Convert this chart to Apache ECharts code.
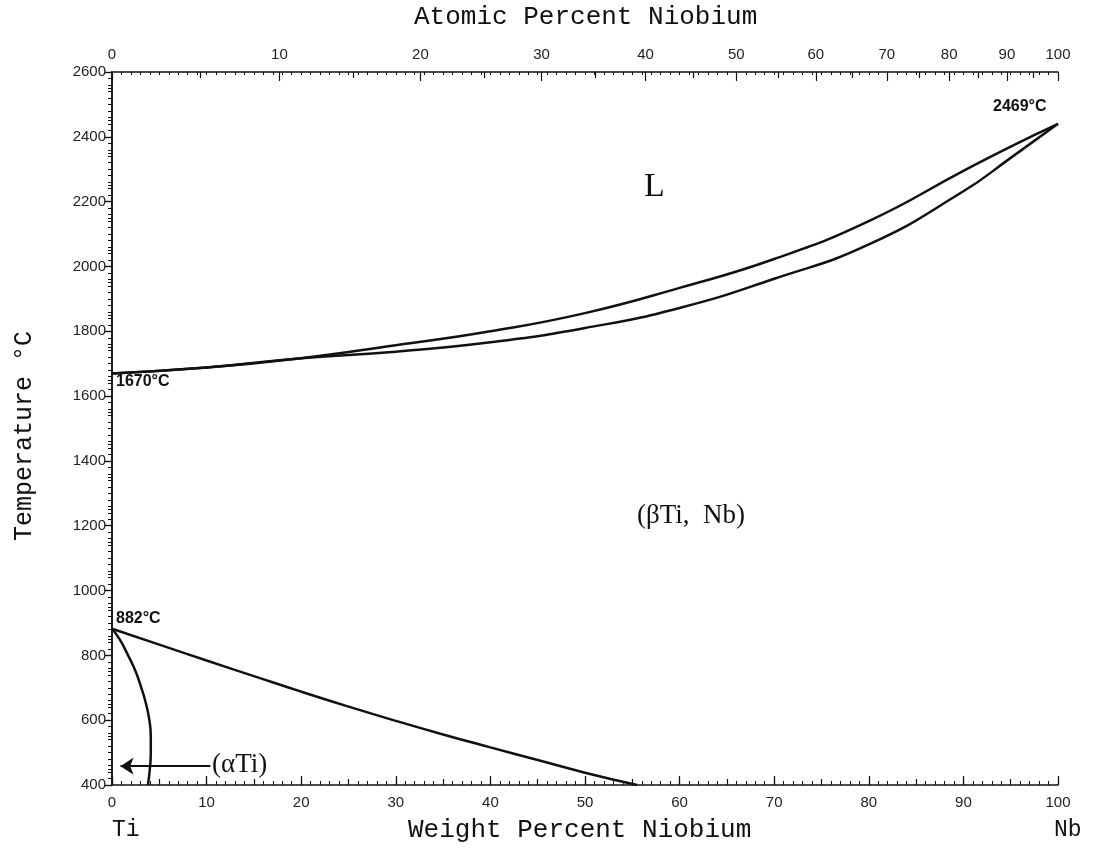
<!DOCTYPE html>
<html>
<head>
<meta charset="utf-8">
<script src="https://cdn.jsdelivr.net/npm/echarts@6/dist/echarts.min.js"></script>
<style>
  html, body { margin: 0; padding: 0; background: #fff; }
  #chart { width: 1099px; height: 848px; }
</style>
</head>
<body>
<div id="chart"></div>
<script>
// liquidus / solidus, weight % Nb vs temperature
var liquidus = [[0,1670],[10,1688],[20,1717],[30,1757],[40,1800],[50,1856],[60,1934],[70,2023],[80,2140],[90,2295],[95,2370],[100,2440]];
var solidus = [[0,1670],[10,1688],[20,1717],[30,1737],[40,1766],[50,1810],[60,1872],[70,1962],[80,2068],[90,2232],[95,2335],[100,2440]];
// alpha / beta transus and alpha solvus
var transus = [[0,882],[5,833],[10,784],[15,736],[20,688],[25,642],[30,598],[35,556],[40,516],[45,477],[50,438],[55.5,400]];
var alphaSolvus = [[0,882],[0.8,850],[1.7,800],[2.5,750],[3.1,700],[3.6,650],[3.95,600],[4.1,550],[4.1,500],[4.0,450],[3.8,400]];

// top axis: atomic % labels and where they sit on the weight % scale
var atLabels = [0,10,20,30,40,50,60,70,80,90,100];
var atPos = [0,17.7,32.6,45.4,56.4,66.0,74.4,81.9,88.5,94.6,100];
var atMidPos = [9.3,25.5,39.3,51.1,61.4,70.4,78.3,85.3,91.6,97.4];

var ink = '#111';
var tickFont = { fontFamily: 'Liberation Sans', fontSize: 15, color: '#222' };

var chart = echarts.init(document.getElementById('chart'));

function curve(data) {
  return {
    type: 'line', data: data, showSymbol: false, smooth: 0.5,
    lineStyle: { color: ink, width: 2.5 }, animation: false, silent: true
  };
}

var arrowSeries = {
  type: 'line', data: [], silent: true,
  markLine: {
    silent: true, animation: false,
    symbol: ['none', 'arrow'], symbolSize: 13,
    lineStyle: { color: ink, width: 2, type: 'solid' },
    label: { show: false },
    data: [[{ coord: [10.4, 458] }, { coord: [0.9, 458] }]]
  }
};

chart.setOption({
  backgroundColor: '#fff',
  animation: false,
  grid: { left: 112, right: 41, top: 72, bottom: 63 },
  xAxis: [
    {
      type: 'value', position: 'bottom', min: 0, max: 100, interval: 10,
      axisLine: { lineStyle: { color: ink, width: 1.5 } },
      axisTick: { inside: true, length: 9, lineStyle: { color: ink, width: 1.2 } },
      minorTick: { show: true, splitNumber: 10, length: 4, lineStyle: { color: ink } },
      axisLabel: Object.assign({ margin: 10 }, tickFont),
      splitLine: { show: false }
    },
    {
      type: 'value', position: 'top', min: 0, max: 100,
      axisLine: { lineStyle: { color: ink, width: 1.5 } },
      axisTick: { inside: true, length: 9, customValues: atPos, lineStyle: { color: ink, width: 1.2 } },
      axisLabel: Object.assign({
        margin: 10, customValues: atPos,
        formatter: function (v) {
          var i = atPos.indexOf(v);
          return i < 0 ? '' : String(atLabels[i]);
        }
      }, tickFont),
      splitLine: { show: false }
    },
    {
      type: 'value', position: 'top', min: 0, max: 100,
      axisLine: { show: false },
      axisTick: { inside: true, length: 6, customValues: atMidPos, lineStyle: { color: ink, width: 1.2 } },
      axisLabel: { show: false },
      splitLine: { show: false }
    },
    {
      type: 'value', position: 'top', min: 0, max: 100, interval: 1,
      axisLine: { show: false },
      axisTick: { inside: true, length: 3, lineStyle: { color: ink } },
      axisLabel: { show: false },
      splitLine: { show: false }
    },
    {
      type: 'value', position: 'bottom', min: 0, max: 100, interval: 5,
      axisLine: { show: false },
      axisTick: { inside: true, length: 6, lineStyle: { color: ink, width: 1.2 } },
      axisLabel: { show: false },
      splitLine: { show: false }
    }
  ],
  yAxis: [
    {
      type: 'value', position: 'left', min: 400, max: 2600, interval: 200,
      axisLine: { show: true, lineStyle: { color: ink, width: 1.5 } },
      axisTick: { show: true, inside: false, length: 7, lineStyle: { color: ink, width: 1.2 } },
      minorTick: { show: true, splitNumber: 10, length: 4, lineStyle: { color: ink } },
      axisLabel: Object.assign({ margin: 6, formatter: function (v) { return String(v); } }, tickFont),
      splitLine: { show: false }
    },
    {
      type: 'value', position: 'right', min: 400, max: 2600, interval: 200,
      axisLine: { show: true, lineStyle: { color: ink, width: 1.5 } },
      axisTick: { show: true, inside: true, length: 7, lineStyle: { color: ink, width: 1.2 } },
      minorTick: { show: true, splitNumber: 4, length: 4, lineStyle: { color: ink } },
      axisLabel: { show: false },
      splitLine: { show: false }
    }
  ],
  series: [
    curve(liquidus),
    curve(solidus),
    curve(transus),
    curve(alphaSolvus),
    arrowSeries
  ],
  graphic: [
    { type: 'text', left: 414, top: 4, style: { text: 'Atomic Percent Niobium', font: '26px "Liberation Mono"', fill: ink } },
    { type: 'text', left: 408, top: 817, style: { text: 'Weight Percent Niobium', font: '26px "Liberation Mono"', fill: ink } },
    { type: 'text', x: 24, y: 436, rotation: Math.PI / 2, style: { text: 'Temperature °C', font: '25px "Liberation Mono"', fill: ink, align: 'center', verticalAlign: 'middle' } },
    { type: 'text', left: 112, top: 818, style: { text: 'Ti', font: '23px "Liberation Mono"', fill: ink } },
    { type: 'text', left: 1054, top: 818, style: { text: 'Nb', font: '23px "Liberation Mono"', fill: ink } },
    { type: 'text', left: 116, top: 374, style: { text: '1670°C', font: 'bold 16px "Liberation Sans"', fill: ink } },
    { type: 'text', left: 993, top: 99, style: { text: '2469°C', font: 'bold 16px "Liberation Sans"', fill: ink } },
    { type: 'text', left: 116, top: 611, style: { text: '882°C', font: 'bold 16px "Liberation Sans"', fill: ink } },
    { type: 'text', left: 644, top: 170, style: { text: 'L', font: '34px "Liberation Serif"', fill: ink } },
    { type: 'text', left: 637, top: 502, style: { text: '(βTi,  Nb)', font: '27px "Liberation Serif"', fill: ink } },
    { type: 'text', left: 212, top: 751, style: { text: '(αTi)', font: '27px "Liberation Serif"', fill: ink } }
  ]
});
</script>
</body>
</html>
